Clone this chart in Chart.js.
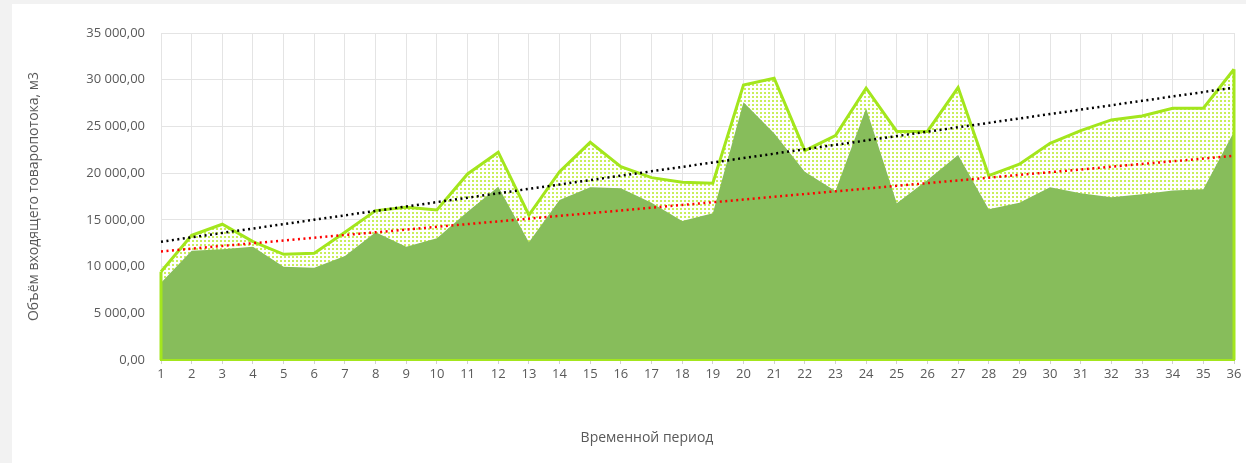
<!DOCTYPE html>
<html>
<head>
<meta charset="utf-8">
<script src="https://cdn.jsdelivr.net/npm/chart.js@4/dist/chart.umd.min.js"></script>
<style>
    html, body { margin: 0; padding: 0; background: #f2f2f2; }
    #wrap { position: absolute; left: 12px; top: 4px; width: 1234px; height: 459px; background: #ffffff; }
</style>
</head>
<body>
<div id="wrap"><canvas id="chart" width="1234" height="459"></canvas></div>
<script>
// Data -----------------------------------------------------------------------------------

var periods = [];
for (var p = 1; p <= 36; p++) periods.push(String(p));

var upperValues = [9450, 13350, 14530, 12670, 11310, 11420, 13670, 15990, 16350, 16060, 19910, 22240,
                   15520, 20160, 23300, 20700, 19520, 19020, 18920, 29440, 30160, 22410, 24020, 29090,
                   24460, 24460, 29160, 19740, 20950, 23200, 24550, 25700, 26120, 26950, 26950, 31120];

var lowerValues = [8280, 11700, 11850, 12130, 9990, 9880, 11130, 13670, 12130, 13030, 15880, 18550,
                   12600, 17130, 18490, 18380, 16840, 14880, 15700, 27590, 24270, 20160, 18090, 26950,
                   16770, 19270, 21950, 16130, 16840, 18490, 17850, 17420, 17740, 18130, 18270, 24440];

var yTicks = [0, 5000, 10000, 15000, 20000, 25000, 30000, 35000];

var Y_TITLE = 'Объём входящего товаропотока, м3';
var X_TITLE = 'Временной период';

// Constants ------------------------------------------------------------------------------

var LIME = '#a3e61d';
var GREEN = '#87bd5b';
var GRID = '#e4e4e4';
var TEXT = '#595959';
var FONT = '"Open Sans", "Noto Sans", sans-serif';

// Functions ------------------------------------------------------------------------------

function linearTrend(values) {
    var n = values.length, sx = 0, sy = 0, sxy = 0, sxx = 0;
    for (var i = 0; i < n; i++) {
        var x = i + 1;
        sx += x; sy += values[i]; sxy += x * values[i]; sxx += x * x;
    }
    var slope = (n * sxy - sx * sy) / (n * sxx - sx * sx);
    var icpt = (sy - slope * sx) / n;
    return values.map(function (v, i) { return icpt + slope * (i + 1); });
}

function dotPattern() {
    var c = document.createElement('canvas');
    c.width = 4; c.height = 4;
    var g = c.getContext('2d');
    g.fillStyle = '#ffffff';
    g.fillRect(0, 0, 4, 4);
    g.fillStyle = '#c9ef5a';
    g.fillRect(0, 0, 2, 2);
    return g.createPattern(c, 'repeat');
}

function formatNumber(v) {
    var s = Math.round(v).toString().replace(/\B(?=(\d{3})+(?!\d))/g, ' ');
    return s + ',00';
}

// side edges of the upper area, from its first and last values down to zero
var areaEdgesPlugin = {
    id: 'areaEdges',
    afterDatasetsDraw: function (chart) {
        var ctx = chart.ctx;
        var xs = chart.scales.x, ys = chart.scales.y;
        var last = upperValues.length - 1;
        ctx.save();
        ctx.strokeStyle = LIME;
        ctx.lineWidth = 3;
        ctx.beginPath();
        ctx.moveTo(xs.getPixelForValue(0), ys.getPixelForValue(upperValues[0]));
        ctx.lineTo(xs.getPixelForValue(0), ys.getPixelForValue(0));
        ctx.moveTo(xs.getPixelForValue(last), ys.getPixelForValue(upperValues[last]));
        ctx.lineTo(xs.getPixelForValue(last), ys.getPixelForValue(0));
        ctx.stroke();
        ctx.restore();
    }
};

var xTitlePlugin = {
    id: 'xTitle',
    afterDraw: function (chart) {
        var ctx = chart.ctx;
        ctx.save();
        ctx.font = '14px ' + FONT;
        ctx.fillStyle = TEXT;
        ctx.textAlign = 'center';
        ctx.textBaseline = 'middle';
        ctx.fillText(X_TITLE, 635, 434);
        ctx.restore();
    }
};

var context = document.getElementById('chart').getContext('2d');

var chart = new Chart(context, {
    type: 'line',
    data: {
        labels: periods,
        datasets: [{
            data: linearTrend(upperValues),
            borderColor: '#000000',
            borderWidth: 2.5,
            borderDash: [2, 3.5],
            pointRadius: 0,
            fill: false,
            order: 0
        }, {
            data: linearTrend(lowerValues),
            borderColor: '#ff0000',
            borderWidth: 2.5,
            borderDash: [2, 3.5],
            pointRadius: 0,
            fill: false,
            order: 0
        }, {
            data: lowerValues,
            borderWidth: 0,
            borderColor: GREEN,
            backgroundColor: GREEN,
            pointRadius: 0,
            fill: 'origin',
            tension: 0,
            order: 1
        }, {
            data: upperValues,
            borderColor: LIME,
            borderWidth: 3,
            backgroundColor: dotPattern(),
            pointRadius: 0,
            fill: 'origin',
            tension: 0,
            order: 2
        }]
    },
    options: {
        responsive: false,
        animation: false,
        events: [],
        layout: { padding: { left: 0, right: 12, top: 29, bottom: 0 } },
        plugins: {
            legend: { display: false },
            tooltip: { enabled: false },
            filler: { drawTime: 'beforeDatasetsDraw' }
        },
        scales: {
            x: {
                offset: false,
                grid: { color: GRID, tickColor: '#d0d0d0', tickLength: 4 },
                border: { color: LIME, width: 2, z: 1 },
                ticks: { color: TEXT, font: { family: FONT, size: 13 }, padding: 2, maxRotation: 0, autoSkip: false },
                afterFit: function (scale) { scale.height = 103; }
            },
            y: {
                min: 0,
                max: 35000,
                grid: { color: GRID, drawTicks: false },
                border: { color: GRID, width: 1 },
                afterBuildTicks: function (scale) {
                    scale.ticks = yTicks.map(function (v) { return { value: v }; });
                },
                ticks: {
                    color: TEXT,
                    font: { family: FONT, size: 13 },
                    padding: 16,
                    callback: function (v) { return formatNumber(v); }
                },
                title: {
                    display: true,
                    text: Y_TITLE,
                    color: TEXT,
                    font: { family: FONT, size: 14 },
                    padding: { top: 14, bottom: 0 }
                },
                afterFit: function (scale) { scale.width = 149; }
            }
        }
    },
    plugins: [areaEdgesPlugin, xTitlePlugin]
});
</script>
</body>
</html>
